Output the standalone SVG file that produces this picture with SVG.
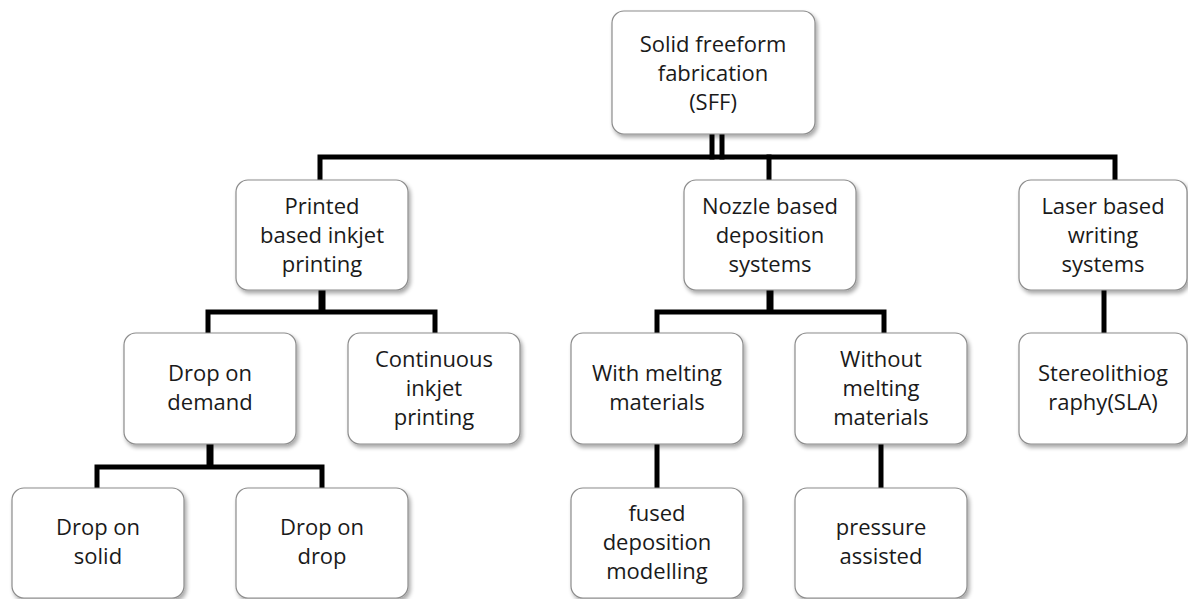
<svg xmlns="http://www.w3.org/2000/svg" width="1188" height="599" viewBox="0 0 1188 599">
<style>
.box{fill:#fff;stroke:#8c8c8c;stroke-width:1.2;filter:url(#sh)}
.t{font-family:"Open Sans","Noto Sans",sans-serif;font-size:22px;fill:#1a1a1a;text-anchor:middle}
.c{stroke:#000;stroke-width:5;fill:none;stroke-linecap:square}
.k{stroke:#000;stroke-width:7;fill:none}
</style>
<defs>
<filter id="sh" x="-10%" y="-10%" width="125%" height="130%">
<feGaussianBlur in="SourceAlpha" stdDeviation="2"/>
<feOffset dx="2" dy="3" result="b"/>
<feComponentTransfer><feFuncA type="linear" slope="0.35"/></feComponentTransfer>
<feMerge><feMergeNode/><feMergeNode in="SourceGraphic"/></feMerge>
</filter>
</defs>
<rect width="1188" height="599" fill="#fff"/>
<g id="connectors">
<line class="c" x1="712" y1="134" x2="712" y2="157"/>
<line class="c" x1="722" y1="134" x2="722" y2="157"/>
<polyline class="c" points="320,180 320,157 1115,157 1115,180"/>
<line class="c" x1="769" y1="157" x2="769" y2="180"/>
<line class="k" x1="322" y1="290" x2="322" y2="312"/>
<polyline class="c" points="208,333 208,312 435,312 435,333"/>
<line class="k" x1="770" y1="290" x2="770" y2="312"/>
<polyline class="c" points="657,333 657,312 884,312 884,333"/>
<line class="c" x1="1104" y1="290" x2="1104" y2="333"/>
<line class="k" x1="210" y1="444" x2="210" y2="467"/>
<polyline class="c" points="97,488 97,467 322,467 322,488"/>
<line class="c" x1="657" y1="444" x2="657" y2="488"/>
<line class="c" x1="881" y1="444" x2="881" y2="488"/>
</g>
<g id="n-sff"><rect class="box" x="612" y="11" width="203" height="123" rx="12"/>
<text class="t" x="713" y="52">Solid freeform</text><text class="t" x="713" y="81">fabrication</text><text class="t" x="713" y="110">(SFF)</text></g>
<g id="n-printed"><rect class="box" x="236" y="180" width="172" height="110" rx="12"/>
<text class="t" x="322" y="214">Printed</text><text class="t" x="322" y="243">based inkjet</text><text class="t" x="322" y="272">printing</text></g>
<g id="n-nozzle"><rect class="box" x="684" y="180" width="172" height="110" rx="12"/>
<text class="t" x="770" y="214">Nozzle based</text><text class="t" x="770" y="243">deposition</text><text class="t" x="770" y="272">systems</text></g>
<g id="n-laser"><rect class="box" x="1019" y="180" width="168" height="110" rx="12"/>
<text class="t" x="1103" y="214">Laser based</text><text class="t" x="1103" y="243">writing</text><text class="t" x="1103" y="272">systems</text></g>
<g id="n-dod"><rect class="box" x="124" y="333" width="172" height="111" rx="12"/>
<text class="t" x="210" y="381">Drop on</text><text class="t" x="210" y="410">demand</text></g>
<g id="n-cij"><rect class="box" x="348" y="333" width="172" height="111" rx="12"/>
<text class="t" x="434" y="367">Continuous</text><text class="t" x="434" y="396">inkjet</text><text class="t" x="434" y="425">printing</text></g>
<g id="n-with"><rect class="box" x="571" y="333" width="172" height="111" rx="12"/>
<text class="t" x="657" y="381">With melting</text><text class="t" x="657" y="410">materials</text></g>
<g id="n-without"><rect class="box" x="795" y="333" width="172" height="111" rx="12"/>
<text class="t" x="881" y="367">Without</text><text class="t" x="881" y="396">melting</text><text class="t" x="881" y="425">materials</text></g>
<g id="n-sla"><rect class="box" x="1019" y="333" width="168" height="111" rx="12"/>
<text class="t" x="1103" y="381">Stereolithiog</text><text class="t" x="1103" y="410">raphy(SLA)</text></g>
<g id="n-dos"><rect class="box" x="12" y="488" width="172" height="110" rx="12"/>
<text class="t" x="98" y="535">Drop on</text><text class="t" x="98" y="564">solid</text></g>
<g id="n-dodrop"><rect class="box" x="236" y="488" width="172" height="110" rx="12"/>
<text class="t" x="322" y="535">Drop on</text><text class="t" x="322" y="564">drop</text></g>
<g id="n-fdm"><rect class="box" x="571" y="488" width="172" height="110" rx="12"/>
<text class="t" x="657" y="521">fused</text><text class="t" x="657" y="550">deposition</text><text class="t" x="657" y="579">modelling</text></g>
<g id="n-pa"><rect class="box" x="795" y="488" width="172" height="110" rx="12"/>
<text class="t" x="881" y="535">pressure</text><text class="t" x="881" y="564">assisted</text></g>
</svg>
